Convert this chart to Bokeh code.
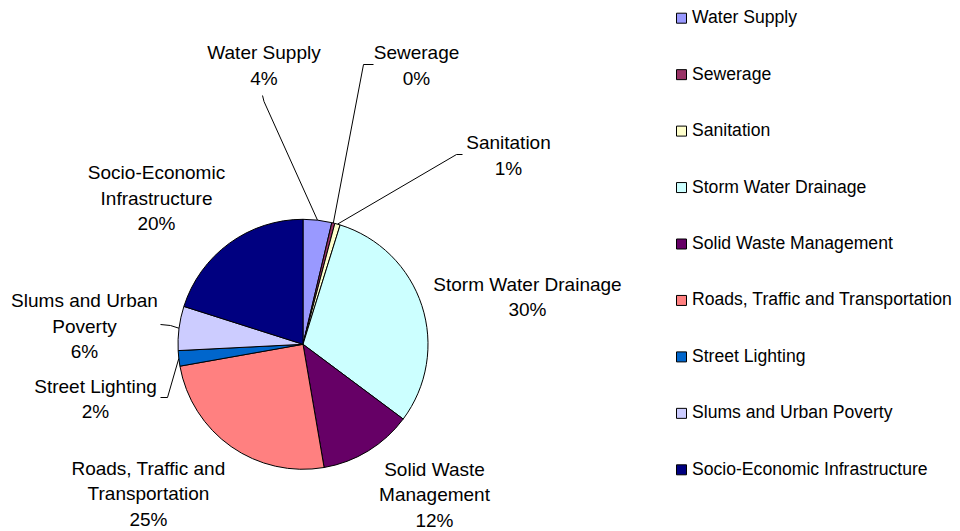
import math
from bokeh.plotting import figure
from bokeh.models import ColumnDataSource, Range1d
from bokeh.core.properties import value
from bokeh.embed import file_html
from bokeh.resources import INLINE

# ---------------- data ----------------
categories = [
    "Water Supply",
    "Sewerage",
    "Sanitation",
    "Storm Water Drainage",
    "Solid Waste Management",
    "Roads, Traffic and Transportation",
    "Street Lighting",
    "Slums and Urban Poverty",
    "Socio-Economic Infrastructure",
]
shares = [3.7, 0.4, 0.7, 30.4, 12.1, 24.9, 2.0, 5.7, 20.1]
colors = ["#9999FF", "#993366", "#FFFFCC", "#CCFFFF", "#660066",
          "#FF8080", "#0066CC", "#CCCCFF", "#000080"]
label_names = [
    ["Water Supply"],
    ["Sewerage"],
    ["Sanitation"],
    ["Storm Water Drainage"],
    ["Solid Waste", "Management"],
    ["Roads, Traffic and", "Transportation"],
    ["Street Lighting"],
    ["Slums and Urban", "Poverty"],
    ["Socio-Economic", "Infrastructure"],
]

# ---------------- layout (pixels, y downward) ----------------
W, H = 960, 531
CX, CY, R = 302.5, 343.8, 125
label_pos = [(263.5, 52), (416, 52), (508, 142), (527, 283.5),
             (434, 468.5), (148, 467.5), (95, 385.5), (84, 300), (156, 172)]
LINE_H = 25.5
# leader line points near the label (pie end computed from slice angle)
leader_elbows = {
    0: [(262, 95), (263.5, 101)],
    1: [(373, 64), (363, 64)],
    2: [(462, 154), (456, 154)],
    6: [(160, 397), (167, 397)],
    7: [(160, 324), (170, 325)],
}
LEG_X, LEG_Y0, LEG_DY = 681, 17.7, 56.45
LEG_TEXT_DY = -1
FONT = value("Liberation Sans")


def fy(y):
    return H - y


total = sum(shares)
starts, ends, mids = [], [], []
cum = 0.0
for s in shares:
    a0 = math.pi / 2 - 2 * math.pi * cum / total
    cum += s
    a1 = math.pi / 2 - 2 * math.pi * cum / total
    starts.append(a0)
    ends.append(a1)
    mids.append((a0 + a1) / 2)

p = figure(width=W, height=H, x_range=Range1d(0, W), y_range=Range1d(0, H),
           min_border=0, toolbar_location=None, output_backend="svg",
           x_axis_location=None, y_axis_location=None)
p.grid.visible = False
p.outline_line_color = None
p.background_fill_color = "white"
p.border_fill_color = "white"

src = ColumnDataSource(dict(start=starts, end=ends, color=colors, name=categories))
p.wedge(x=CX, y=fy(CY), radius=R, start_angle="start", end_angle="end",
        direction="clock", fill_color="color", line_color="black",
        line_width=1, source=src)

# leader lines
xs, ys = [], []
for i, pts in leader_elbows.items():
    ex = CX + R * math.cos(mids[i])
    ey = fy(CY) + R * math.sin(mids[i])
    xs.append([x for x, _ in pts] + [ex])
    ys.append([fy(y) for _, y in pts] + [ey])
p.multi_line(xs=xs, ys=ys, line_color="black", line_width=1)

# data labels
tx, ty, tt = [], [], []
for i, (nm, s) in enumerate(zip(label_names, shares)):
    lines = nm + [f"{round(s)}%"]
    x0, y0 = label_pos[i]
    for k, ln in enumerate(lines):
        tx.append(x0)
        ty.append(fy(y0 + k * LINE_H))
        tt.append(ln)
p.text(x=tx, y=ty, text=tt, text_align="center", text_baseline="middle",
       text_font=FONT, text_font_size="19px", text_color="black")

# legend
ly = [fy(LEG_Y0 + i * LEG_DY) for i in range(len(categories))]
p.scatter(x=[LEG_X] * len(categories), y=ly, marker="square", size=10,
          fill_color=colors, line_color="black", line_width=1)
p.text(x=[LEG_X + 10.5] * len(categories), y=[v - LEG_TEXT_DY for v in ly],
       text=categories, text_align="left", text_baseline="middle",
       text_font=FONT, text_font_size="17.6px", text_color="black")

open("out.html", "w").write(file_html(p, INLINE))
